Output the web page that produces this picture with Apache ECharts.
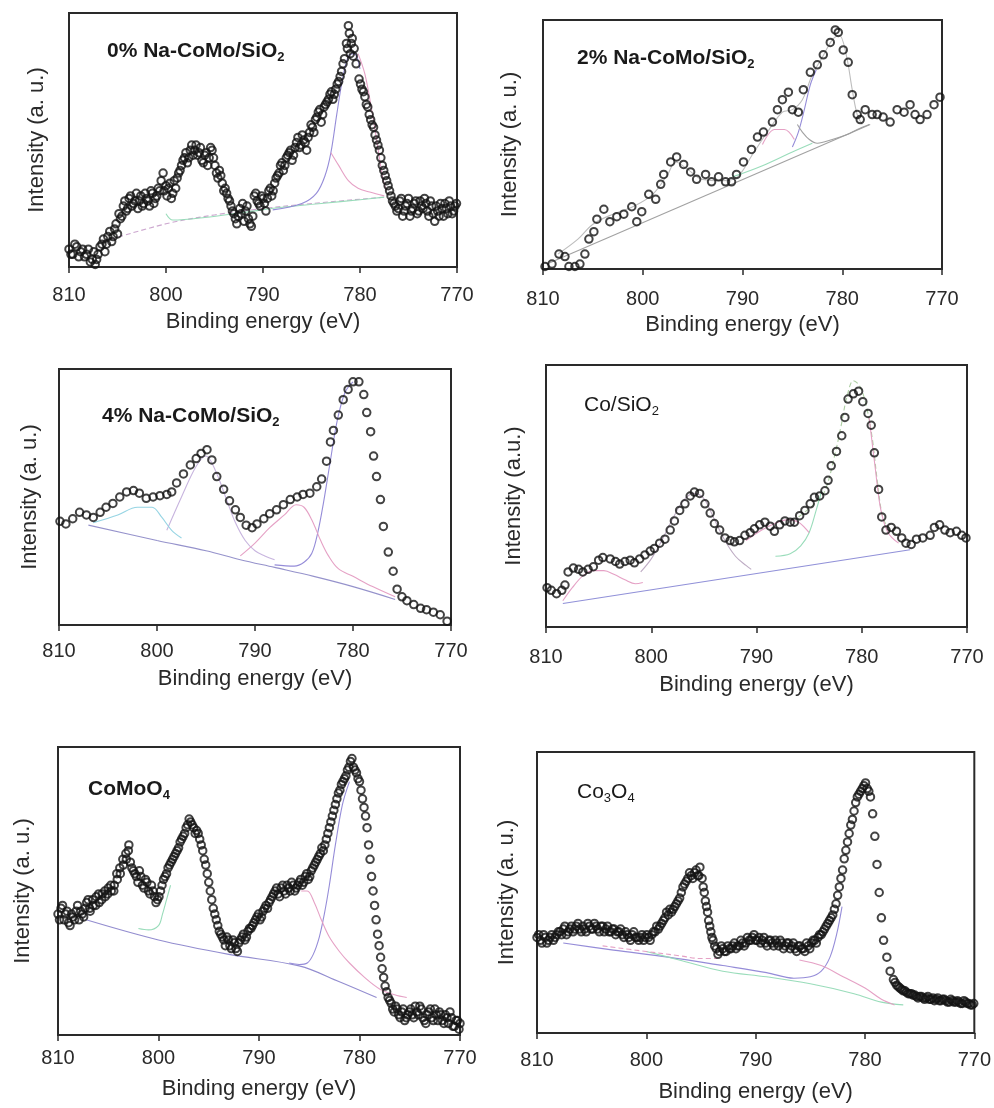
<!DOCTYPE html>
<html>
<head>
<meta charset="utf-8">
<script src="https://cdn.jsdelivr.net/npm/echarts@6/dist/echarts.min.js"></script>
<style>html,body{margin:0;padding:0;background:#fff}#c{width:994px;height:1108px}</style>
</head>
<body>
<div id="c"></div>
<script>
// ---------- tick labels / axis ----------
const xTicks = [810, 800, 790, 780, 770];
const xTitle = 'Binding energy (eV)';
const yTitles = ['Intensity (a. u.)', 'Intensity (a. u.)', 'Intensity (a. u.)', 'Intensity (a.u.)', 'Intensity (a. u.)', 'Intensity (a. u.)'];
const panelMain = ['0% Na-CoMo/SiO', '2% Na-CoMo/SiO', '4% Na-CoMo/SiO', 'Co/SiO', 'CoMoO', 'Co'];
const panelSub = ['2', '2', '2', '2', '4', '3'];
const panelTail = ['', '', '', '', '', 'O'];
const panelTailSub = ['', '', '', '', '', '4'];

// ---------- panel 1 : 0% Na-CoMo/SiO2 (energy eV, intensity %) ----------
const p1Points = [[810.0,7],[809.6,5],[809.2,8],[808.8,6],[808.4,4],[808.0,7],[807.6,3],[807.3,1],[807.0,5],[806.6,9],[806.3,6],[806.0,12],[805.6,10],[805.3,15],[805.0,13],[804.7,19],[804.4,24],[804.1,22],[803.8,27],[803.5,24],[803.2,26],[802.9,23],[802.6,28],[802.3,25],[802.0,27],[801.7,24],[801.4,29],[801.1,27],[800.8,31],[800.5,34],[800.3,37],[800.2,30],[799.9,28],[799.6,33],[799.3,29],[799.0,31],[798.7,37],[798.4,40],[798.1,43],[797.8,41],[797.5,46],[797.2,44],[796.9,48],[796.6,45],[796.3,42],[796.0,44],[795.7,40],[795.4,47],[795.1,43],[794.8,37],[794.5,38],[794.2,33],[793.9,31],[793.6,27],[793.3,24],[793.0,21],[792.7,17],[792.4,23],[792.1,25],[791.8,22],[791.5,19],[791.2,16],[790.9,28],[790.6,26],[790.3,24],[790.0,27],[789.7,22],[789.4,30],[789.1,28],[788.8,33],[788.5,36],[788.2,40],[787.9,38],[787.6,43],[787.3,45],[787.0,42],[786.7,47],[786.4,51],[786.1,48],[785.8,50],[785.5,46],[785.2,53],[784.9,55],[784.6,58],[784.3,61],[784.0,57],[783.7,63],[783.4,65],[783.1,68],[782.8,66],[782.5,70],[782.2,73],[781.9,77],[781.6,82],[781.4,88],[781.3,86],[781.2,95],[781.1,92],[781.0,84],[780.9,88],[780.8,90],[780.7,83],[780.6,86],[780.4,80],[780.1,74],[779.8,70],[779.5,67],[779.2,63],[778.9,58],[778.6,55],[778.3,50],[778.0,46],[777.7,40],[777.4,36],[777.1,32],[776.8,28],[776.5,25],[776.2,22],[775.9,26],[775.6,20],[775.3,24],[775.0,27],[774.7,22],[774.4,25],[774.1,21],[773.8,26],[773.5,23],[773.2,25],[772.9,20],[772.6,24],[772.3,18],[772.0,22],[771.7,25],[771.4,20],[771.1,23],[770.8,26],[770.5,21],[770.2,24]];
const p1PointsB = [[809.8,5],[809.4,9],[809.0,4],[808.6,7],[808.2,5],[807.8,2],[807.45,6],[807.15,3],[806.8,8],[806.45,11],[806.15,9],[805.8,14],[805.45,12],[805.15,17],[804.85,21],[804.55,20],[804.25,26],[803.95,23],[803.65,28],[803.35,25],[803.05,29],[802.75,26],[802.45,24],[802.15,29],[801.85,26],[801.55,30],[801.25,25],[800.95,28],[800.65,30],[800.0,32],[799.75,31],[799.45,27],[799.15,34],[798.85,35],[798.55,38],[798.25,42],[797.95,45],[797.65,43],[797.35,48],[797.05,46],[796.75,44],[796.45,47],[796.15,41],[795.85,45],[795.55,43],[795.25,46],[794.95,40],[794.65,35],[794.35,36],[794.05,30],[793.75,29],[793.45,26],[793.15,22],[792.85,19],[792.55,20],[792.25,21],[791.95,18],[791.65,24],[791.35,17],[791.05,20],[790.75,29],[790.45,25],[790.15,28],[789.85,25],[789.55,27],[789.25,31],[788.95,30],[788.65,35],[788.35,37],[788.05,41],[787.75,40],[787.45,44],[787.15,46],[786.85,44],[786.55,49],[786.25,47],[785.95,52],[785.65,49],[785.35,51],[785.05,56],[784.75,53],[784.45,59],[784.15,62],[783.85,60],[783.55,64],[783.25,66],[782.95,69],[782.65,68],[782.35,72],[782.05,75],[781.75,80],[779.95,72],[779.65,69],[779.35,64],[779.05,60],[778.75,56],[778.45,52],[778.15,48],[777.85,43],[777.55,38],[777.25,34],[776.95,30],[776.65,26],[776.35,24],[776.05,23],[775.75,27],[775.45,22],[775.15,25],[774.85,20],[774.55,23],[774.25,26],[773.95,22],[773.65,24],[773.35,27],[773.05,22],[772.75,26],[772.45,21],[772.15,24],[771.85,20],[771.55,23],[771.25,25],[770.95,21],[770.65,24],[770.35,22],[770.05,25]];
const p1Base = [[806.5,10],[800,17],[795,20.5],[790,23],[785,25],[777.5,27.5]];
const p1Green = [[800,21],[799.3,18.5],[796,19.5],[792,21.5],[788,23.5],[784,25],[780,26.5],[777.5,27.5]];
const p1Main = [[789,22.5],[786,25],[784.5,29],[783.6,36],[783,45],[782.4,60],[781.8,74],[781.2,83],[780.6,84],[780,78]];
const p1Tail = [[783,45],[782.2,40],[781.2,34],[780.2,31],[779,29.5],[777.5,28]];
const p1Right = [[780.2,84],[779.5,76],[778.8,62],[778.2,48],[777.7,36],[777.3,30]];

// ---------- panel 2 : 2% Na-CoMo/SiO2 ----------
const p2Points = [[809.8,1],[809.1,2],[808.4,6],[807.8,5],[807.4,1],[806.8,1],[806.3,2],[805.8,6],[805.4,12],[804.9,15],[804.6,20],[803.9,24],[803.3,19],[802.6,21],[801.9,22],[801.1,25],[800.6,19],[800.1,23],[799.4,30],[798.7,28],[798.2,34],[797.9,38],[797.2,43],[796.6,45],[795.9,42],[795.2,39],[794.6,36],[793.7,38],[793.1,35],[792.4,37],[791.7,35],[791.1,35],[790.6,38],[789.9,43],[789.1,48],[788.5,53],[787.9,55],[787.0,59],[786.5,64],[786.0,68],[785.4,71],[785.0,64],[784.4,63],[783.9,72],[783.2,79],[782.5,82],[781.9,86],[781.2,91],[780.7,96],[780.4,95],[779.9,88],[779.4,83],[779.0,70],[778.5,62],[778.2,60],[777.7,64],[777.0,62],[776.5,62],[775.9,61],[775.2,59],[774.5,64],[773.8,63],[773.2,66],[772.7,62],[772.2,60],[771.5,62],[770.8,66],[770.2,69]];
const p2Base = [[809.6,2],[777.2,58]];
const p2Env = [[808.5,6],[806.5,12],[805,18],[803,22],[801,25],[799,30],[797.5,38],[796.7,43],[795.5,40],[794,36],[792,35.5],[790.5,37],[789,46],[787.5,55],[786,63],[785,64],[784,68],[783,78],[782,85],[781,92],[780.3,94],[779.6,86],[779,72],[778.5,62],[778,58]];
const p2Green = [[791,37],[788,41.5],[785,47],[783,50.5]];
const p2Purple = [[785,49],[784.4,55],[783.8,64],[783.2,74],[782.6,80]];
const p2Tail = [[784.5,58],[784,55],[783.3,52],[782.5,50.5],[781,52],[779.5,54],[778.5,56],[777.3,58]];
const p2Pink = [[788,50],[786.8,56],[785.8,56],[784.8,52]];

// ---------- panel 3 : 4% Na-CoMo/SiO2 ----------
const p3Points = [[809.9,40.5],[809.3,39.5],[808.6,41.5],[807.9,44],[807.2,43],[806.5,42],[805.8,44],[805.2,46],[804.5,47.5],[803.8,50],[803.1,52],[802.4,52.5],[801.8,51.5],[801.1,49.5],[800.4,50],[799.7,50.5],[799.0,51],[798.5,52],[798.0,55.5],[797.3,59],[796.6,62.5],[796.0,65],[795.5,67],[794.9,68.5],[794.4,64.5],[793.9,58],[793.2,53],[792.6,48.5],[792.0,45],[791.5,42],[790.9,39],[790.3,38],[789.8,39.5],[789.1,41.5],[788.5,43.5],[787.8,45],[787.1,47],[786.4,49],[785.7,50],[785.1,51],[784.4,51.5],[783.7,54],[783.2,57],[782.7,64],[782.3,71.5],[782.0,76],[781.5,82],[781.0,88],[780.5,92],[780.0,95],[779.4,95],[778.9,90],[778.6,83],[778.2,75.5],[777.9,66],[777.6,58],[777.2,49],[776.9,38.5],[776.4,28.5],[775.9,21],[775.5,14],[775.0,11],[774.5,9.5],[773.8,8],[773.1,6.5],[772.5,6],[771.8,5],[771.1,4],[770.4,1.5]];
const p3Base = [[807,39],[800,33],[795,29],[791.5,25.5],[788,22.5],[784,19],[780,15],[775.7,10]];
const p3Main = [[788,23.5],[786,23],[785,24.5],[784.2,28],[783.6,36],[783,48],[782.4,62],[781.6,80],[780.8,91],[780,95]];
const p3Sat = [[791.5,27],[790,32],[788.5,38],[787,43],[785.8,47],[785,46],[784.2,41],[783.3,33],[782.5,27],[781.5,22],[780,19],[778,15],[775.7,11]];
const p3Mid = [[799,37],[797.5,50],[796,62],[795,66],[794,60],[793,50],[792,40],[791,33],[790,29],[789,27],[788,25.5]];
const p3Green = [[806.5,40],[804,43],[802,46],[800.5,46],[799.5,42],[798.5,37],[797.5,34]];

// ---------- panel 4 : Co/SiO2 ----------
const p4Points = [[809.9,15],[809.5,14],[809.0,12.7],[808.5,14],[808.2,16],[807.9,21],[807.4,22.5],[806.9,22],[806.5,21],[806.0,22],[805.5,23],[805.0,25.5],[804.6,26.5],[803.9,26],[803.4,25],[803.0,24],[802.5,25],[802.0,25.5],[801.6,24.5],[801.1,26],[800.6,27.5],[800.1,29],[799.7,30],[799.2,32],[798.7,33.5],[798.2,37],[797.8,40.5],[797.3,44.5],[796.8,47],[796.3,50],[795.9,51.5],[795.4,51],[794.9,47],[794.4,43.5],[794.0,39.5],[793.5,37],[793.0,34],[792.5,33],[792.1,32.5],[791.6,33],[791.1,35],[790.6,36],[790.2,37.5],[789.7,39],[789.2,40],[788.7,38.5],[788.3,36.5],[787.8,39],[787.3,40.5],[786.8,40],[786.4,40],[785.9,42.5],[785.4,44.5],[784.9,47],[784.5,49.5],[784.0,50],[783.5,52],[783.2,56],[782.9,61.5],[782.4,67],[781.9,73],[781.6,80],[781.3,87],[780.8,89],[780.3,90],[779.9,86],[779.4,81.5],[779.1,77],[778.8,66.5],[778.4,52.5],[778.1,42],[777.7,37],[777.2,38],[776.7,36.5],[776.2,34],[775.8,32],[775.3,31.5],[774.8,33.5],[774.2,34],[773.5,35],[773.1,38],[772.6,39],[772.1,37],[771.6,36],[771.0,36.5],[770.5,35],[770.1,34]];
const p4Base = [[808.4,9],[775.4,29.5]];
const p4Env = [[786,42],[784.5,47],[783.5,52],[782.6,65],[782,76],[781.4,88],[780.8,94],[780.2,92],[779.6,85],[779,72],[778.5,55],[778,42],[777.3,37],[776.5,35]];
const p4Green = [[788.2,27],[786.8,28],[785.8,31],[785,36],[784.3,45],[783.8,52]];
const p4Pink = [[791,33],[789.5,37],[788,40],[787,41],[786,40],[785,36]];
const p4Tail = [[779.3,80],[778.7,60],[778.2,45],[777.5,36],[776.5,32]];
const p4Mid = [[801,21],[800,26],[799,33],[798,41],[797,48],[796,51],[795,49],[794,41],[793,33],[792,27],[791,23.5],[790.5,22]];
const p4Sat = [[808.4,10],[807.5,15],[806.5,19.5],[805.5,21.5],[804.5,21.5],[803.5,20],[802.5,18],[801.5,16.5],[800.8,17]];

// ---------- panel 5 : CoMoO4 ----------
const p5Points = [[810.0,42],[809.7,44],[809.4,40],[809.1,43],[808.8,38],[808.5,41],[808.2,43],[807.9,40],[807.6,42],[807.3,44],[807.0,47],[806.8,43],[806.5,45],[806.2,48],[805.9,46],[805.6,49],[805.3,48],[805.0,51],[804.7,50],[804.4,52],[804.1,54],[803.8,56],[803.5,59],[803.2,61],[803.0,64],[802.8,60],[802.5,57],[802.2,55],[801.9,57],[801.6,52],[801.3,54],[801.0,50],[800.7,52],[800.4,48],[800.1,47],[799.8,50],[799.5,54],[799.2,56],[798.9,59],[798.6,61],[798.3,63],[798.0,65],[797.7,68],[797.4,70],[797.1,73],[796.8,74],[796.5,72],[796.2,71],[795.9,68],[795.6,64],[795.3,59],[795.0,53],[794.7,47],[794.4,42],[794.1,38],[793.8,35],[793.5,33],[793.2,34],[792.9,31],[792.6,33],[792.3,30],[792.0,32],[791.7,34],[791.4,33],[791.1,36],[790.8,37],[790.5,39],[790.2,41],[789.9,40],[789.6,43],[789.3,45],[789.0,46],[788.7,48],[788.4,50],[788.1,49],[787.8,51],[787.5,50],[787.2,52],[786.9,50],[786.6,52],[786.3,51],[786.0,53],[785.7,52],[785.4,55],[785.1,54],[784.8,57],[784.5,59],[784.2,61],[783.9,63],[783.6,64],[783.3,68],[783.0,72],[782.7,76],[782.4,80],[782.1,84],[781.8,87],[781.5,89],[781.2,92],[780.9,95],[780.6,93],[780.3,91],[780.0,88],[779.7,82],[779.4,76],[779.1,66],[778.8,55],[778.5,45],[778.2,35],[777.9,27],[777.6,20],[777.3,15],[777.0,12],[776.7,9],[776.4,10],[776.1,7],[775.8,8],[775.5,5],[775.2,7],[774.9,9],[774.6,6],[774.3,8],[774.0,10],[773.7,6],[773.4,4],[773.1,8],[772.8,6],[772.5,9],[772.2,5],[771.9,7],[771.6,4],[771.3,6],[771.0,8],[770.7,3],[770.4,5],[770.1,2]];
const p5PointsB = [[809.85,40],[809.55,45],[809.25,42],[808.95,39],[808.65,42],[808.35,40],[808.05,45],[807.75,43],[807.45,41],[807.15,46],[806.85,44],[806.55,47],[806.25,45],[805.95,49],[805.65,47],[805.35,50],[805.05,49],[804.75,52],[804.45,50],[804.15,56],[803.85,58],[803.55,61],[803.25,63],[802.95,66],[802.65,58],[802.35,56],[802.05,53],[801.75,55],[801.45,51],[801.15,53],[800.85,49],[800.55,50],[800.25,46],[799.95,48],[799.65,52],[799.35,55],[799.05,58],[798.75,60],[798.45,62],[798.15,64],[797.85,67],[797.55,69],[797.25,72],[796.95,75],[796.65,73],[796.35,70],[796.05,70],[795.75,66],[795.45,61],[795.15,56],[794.85,50],[794.55,44],[794.25,40],[793.95,36],[793.65,34],[793.35,31],[793.05,33],[792.75,30],[792.45,32],[792.15,29],[791.85,33],[791.55,35],[791.25,34],[790.95,37],[790.65,38],[790.35,40],[790.05,42],[789.75,41],[789.45,44],[789.15,44],[788.85,47],[788.55,49],[788.25,51],[787.95,48],[787.65,52],[787.35,49],[787.05,51],[786.75,53],[786.45,50],[786.15,52],[785.85,54],[785.55,53],[785.25,56],[784.95,55],[784.65,58],[784.35,60],[784.05,62],[783.75,65],[783.45,66],[783.15,70],[782.85,74],[782.55,78],[782.25,82],[781.95,85],[781.65,88],[781.35,90],[781.05,93],[780.75,96],[780.45,92],[780.15,89],[779.85,85],[779.55,79],[779.25,72],[778.95,61],[778.65,50],[778.35,40],[778.05,31],[777.75,23],[777.45,17],[777.15,13],[776.85,11],[776.55,8],[776.25,9],[775.95,6],[775.65,9],[775.35,6],[775.05,8],[774.75,7],[774.45,10],[774.15,7],[773.85,9],[773.55,5],[773.25,7],[772.95,9],[772.65,5],[772.35,7],[772.05,8],[771.75,5],[771.45,7],[771.15,4],[770.85,6],[770.55,3],[770.25,5],[770.0,4]];
const p5Base = [[807.2,40],[800,33],[793,28],[786,24],[782,18.5],[778.3,13]];
const p5Main = [[787,25],[786,24.5],[785.2,25],[784.6,28],[784,34],[783.5,42],[783,52],[782.4,66],[781.7,80],[781,88]];
const p5Pink = [[785.8,50],[785.2,50],[784.5,46],[783.8,40],[783,34],[782,29],[781,25],[779.5,20],[778,16],[776.5,14],[775.3,13]];
const p5Green = [[802,37],[801,36.5],[800,38],[799.6,42],[799.2,47],[798.8,52]];

// ---------- panel 6 : Co3O4 ----------
const p6Points = [[810.0,34],[809.7,33],[809.4,35],[809.1,32],[808.8,34],[808.5,33],[808.2,35],[807.9,36],[807.6,37],[807.3,35],[807.0,37],[806.7,36],[806.4,38],[806.1,37],[805.8,38],[805.5,36],[805.2,38],[804.9,37],[804.6,38],[804.3,36],[804.0,38],[803.7,37],[803.4,36],[803.1,37],[802.8,35],[802.5,36],[802.2,35],[801.9,36],[801.6,34],[801.3,35],[801.0,34],[800.7,33],[800.4,35],[800.1,34],[799.8,34],[799.5,35],[799.2,36],[798.9,37],[798.6,39],[798.3,41],[798.0,42],[797.7,43],[797.4,45],[797.1,47],[796.8,50],[796.5,53],[796.2,55],[795.9,56],[795.6,57],[795.3,56],[795.1,59],[794.9,55],[794.7,50],[794.5,45],[794.3,40],[794.1,36],[793.9,33],[793.6,30],[793.3,29],[793.0,30],[792.7,29],[792.4,30],[792.1,31],[791.8,30],[791.5,31],[791.2,32],[790.9,32],[790.6,33],[790.3,34],[790.0,33],[789.7,34],[789.4,33],[789.1,32],[788.8,33],[788.5,32],[788.2,33],[787.9,31],[787.6,32],[787.3,31],[787.0,32],[786.7,31],[786.4,30],[786.1,31],[785.8,30],[785.5,29],[785.2,31],[784.9,32],[784.6,33],[784.3,34],[784.0,35],[783.7,37],[783.4,39],[783.1,41],[782.8,44],[782.5,49],[782.2,55],[781.9,62],[781.6,68],[781.3,74],[781.0,79],[780.7,84],[780.4,86],[780.1,88],[779.8,87],[779.5,84],[779.3,78],[779.1,70],[778.9,60],[778.7,50],[778.5,41],[778.3,33],[778.0,27],[777.7,22],[777.4,19],[777.1,17],[776.8,16],[776.5,15],[776.2,14.5],[775.9,14],[775.6,13.5],[775.3,13],[775.0,13],[774.7,12.5],[774.4,12.5],[774.1,12],[773.8,12.5],[773.5,12],[773.2,11.5],[772.9,12],[772.6,11.5],[772.3,11],[772.0,11.5],[771.7,11],[771.4,11],[771.1,10.5],[770.8,11],[770.5,10.5],[770.2,10]];
const p6PointsB = [[809.85,35],[809.55,32],[809.25,34],[808.95,33],[808.65,35],[808.35,34],[808.05,36],[807.75,35],[807.45,38],[807.15,36],[806.85,38],[806.55,37],[806.25,39],[805.95,36],[805.65,37],[805.35,39],[805.05,37],[804.75,39],[804.45,37],[804.15,38],[803.85,36],[803.55,38],[803.25,36],[802.95,37],[802.65,36],[802.35,37],[802.05,34],[801.75,35],[801.45,33],[801.15,36],[800.85,34],[800.55,34],[800.25,33],[799.95,35],[799.65,33],[799.35,36],[799.05,38],[798.75,38],[798.45,40],[798.15,43],[797.85,44],[797.55,44],[797.25,46],[796.95,48],[796.65,52],[796.35,54],[796.05,57],[795.75,55],[795.45,58],[795.2,56],[794.8,52],[794.6,47],[794.4,43],[794.2,38],[794.0,34],[793.75,31],[793.45,28],[793.15,31],[792.85,29],[792.55,31],[792.25,30],[791.95,32],[791.65,31],[791.35,33],[791.05,31],[790.75,34],[790.45,33],[790.15,35],[789.85,33],[789.55,32],[789.25,34],[788.95,31],[788.65,33],[788.35,31],[788.05,32],[787.75,33],[787.45,30],[787.15,32],[786.85,30],[786.55,32],[786.25,29],[785.95,31],[785.65,30],[785.35,32],[785.05,30],[784.75,33],[784.45,32],[784.15,35],[783.85,36],[783.55,38],[783.25,40],[782.95,42],[782.65,46],[782.35,52],[782.05,58],[781.75,65],[781.45,71],[781.15,76],[780.85,82],[780.55,85],[780.25,87],[779.95,89],[779.65,86],[777.25,18],[776.95,16.5],[776.65,15.5],[776.35,15],[776.05,14],[775.75,14],[775.45,13.5],[775.15,12.5],[774.85,13],[774.55,12],[774.25,13],[773.95,12],[773.65,11.5],[773.35,12.5],[773.05,11.5],[772.75,12],[772.45,11],[772.15,12],[771.85,11],[771.55,11.5],[771.25,10.5],[770.95,11.5],[770.65,10.5],[770.35,10],[770.05,10.5]];
const p6Base = [[807.6,32],[803,29.5],[798,27],[793,24],[789,21.5],[786.5,19.5],[785,20],[784,22],[783.2,27],[782.6,35],[782.1,45]];
const p6Green = [[800,29],[797,26],[793,22],[789,20],[785,17.5],[781,14],[778.5,11],[776.5,10]];
const p6PinkDash = [[804,31],[800,29],[797,27.5],[795,26.5],[793.5,26.5]];
const p6Tail = [[786,26],[784,24],[782,20],[780,16],[778.5,12],[777.3,10]];

// ---------- layout ----------
const grids = [
  {left: 69, top: 13, width: 388, height: 254},
  {left: 543, top: 20, width: 399, height: 249},
  {left: 59, top: 369, width: 392, height: 256},
  {left: 546, top: 365, width: 421, height: 262},
  {left: 58, top: 747, width: 402, height: 288},
  {left: 537, top: 752, width: 440, height: 281}
];
const labelMargins = [18, 20, 16, 20, 13, 17];
const xNameGaps = [44, 45, 43, 47, 43, 48];
const yNameGaps = [21, 22, 18, 21, 24, 19];
const titlePos = [[107, 38], [577, 45], [102, 403], [584, 392], [88, 776], [577, 779]];
const titleBold = [true, true, true, false, true, false];

const FONT = 'Arial, "Liberation Sans", sans-serif';
const C_PURPLE = '#8f86d6', C_PINK = '#e49cc2', C_GREEN = '#94dab6', C_CYAN = '#8fd2e2', C_GRAY = '#9c9c9c';

const chart = echarts.init(document.getElementById('c'), null, {renderer: 'canvas'});

const series = [];
function fit(i, data, color, dashed) {
  series.push({type: 'line', xAxisIndex: i, yAxisIndex: i, data: data, smooth: 0.35,
    showSymbol: false, silent: true, z: 2,
    lineStyle: {color: color, width: 1.1, type: dashed ? [5, 3] : 'solid', opacity: 0.95}});
}
function pts(i, data) {
  series.push({type: 'scatter', xAxisIndex: i, yAxisIndex: i, data: data, symbol: 'circle', symbolSize: 7.5, z: 5,
    itemStyle: {color: 'rgba(255,255,255,0)', borderColor: '#141414', borderWidth: 2}});
}

fit(0, p1Base, '#c9a2cc', true); fit(0, p1Green, C_GREEN); fit(0, p1Main, C_PURPLE); fit(0, p1Tail, C_PINK); fit(0, p1Right, C_PINK);
pts(0, p1Points); pts(0, p1PointsB);
fit(1, p2Base, C_GRAY); fit(1, p2Env, '#b8b8b8'); fit(1, p2Green, C_GREEN); fit(1, p2Purple, C_PURPLE); fit(1, p2Tail, C_GRAY); fit(1, p2Pink, C_PINK);
pts(1, p2Points);
fit(2, p3Base, '#8f8cc8'); fit(2, p3Main, C_PURPLE); fit(2, p3Sat, C_PINK); fit(2, p3Mid, '#c4b0dc'); fit(2, p3Green, C_CYAN);
pts(2, p3Points);
fit(3, p4Base, '#8a8ad6'); fit(3, p4Env, '#a9cc9e', true); fit(3, p4Green, C_GREEN); fit(3, p4Pink, C_PINK); fit(3, p4Tail, C_PINK); fit(3, p4Mid, '#b9a7c0'); fit(3, p4Sat, C_PINK);
pts(3, p4Points);
fit(4, p5Base, '#8c86cc'); fit(4, p5Main, C_PURPLE); fit(4, p5Pink, C_PINK); fit(4, p5Green, C_GREEN);
pts(4, p5Points); pts(4, p5PointsB);
fit(5, p6Base, C_PURPLE); fit(5, p6Green, C_GREEN); fit(5, p6PinkDash, C_PINK, true); fit(5, p6Tail, C_PINK);
pts(5, p6Points); pts(5, p6PointsB);

const xAxes = [], yAxes = [], gridOpts = [], titles = [];
for (let i = 0; i < 6; i++) {
  gridOpts.push(Object.assign({show: true, borderColor: '#2a2a2a', borderWidth: 2, backgroundColor: '#fff'}, grids[i]));
  xAxes.push({gridIndex: i, type: 'value', min: 770, max: 810, interval: 10, inverse: true,
    axisLine: {show: true, onZero: false, lineStyle: {color: '#2a2a2a', width: 2}},
    axisTick: {show: true, inside: false, length: 6, lineStyle: {color: '#2a2a2a', width: 1.5}},
    axisLabel: {show: true, fontSize: 20, color: '#2a2a2a', fontFamily: FONT, margin: labelMargins[i],
      customValues: xTicks},
    splitLine: {show: false},
    name: xTitle, nameLocation: 'middle', nameGap: xNameGaps[i],
    nameTextStyle: {fontSize: 22, color: '#2a2a2a', fontFamily: FONT}});
  yAxes.push({gridIndex: i, type: 'value', min: 0, max: 100,
    axisLine: {show: true, lineStyle: {color: '#2a2a2a', width: 2}},
    axisTick: {show: false}, axisLabel: {show: false}, splitLine: {show: false},
    name: yTitles[i], nameLocation: 'middle', nameGap: yNameGaps[i],
    nameTextStyle: {fontSize: 22, color: '#2a2a2a', fontFamily: FONT}});
  const w = titleBold[i] ? 'bold' : 'normal';
  let txt = '{m|' + panelMain[i] + '}{s|' + panelSub[i] + '}';
  if (panelTail[i]) txt += '{m|' + panelTail[i] + '}{s|' + panelTailSub[i] + '}';
  titles.push({text: txt, left: titlePos[i][0], top: titlePos[i][1], padding: 0,
    textStyle: {rich: {
      m: {fontSize: 21, fontWeight: w, color: '#1a1a1a', fontFamily: FONT, lineHeight: 26},
      s: {fontSize: 13, fontWeight: w, color: '#1a1a1a', fontFamily: FONT, lineHeight: 14, verticalAlign: 'bottom'}
    }}});
}

chart.setOption({
  animation: false,
  backgroundColor: '#fff',
  title: titles,
  grid: gridOpts,
  xAxis: xAxes,
  yAxis: yAxes,
  series: series
});
</script>
</body>
</html>
